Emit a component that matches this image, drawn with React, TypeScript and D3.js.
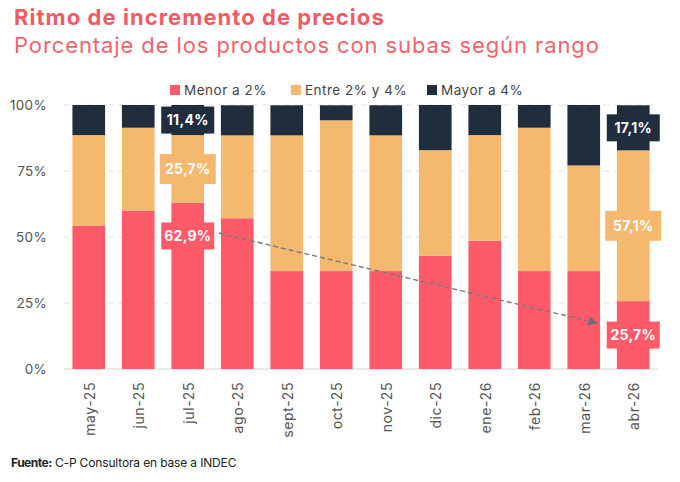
import React, { useEffect, useRef } from 'react';
import * as d3 from 'd3';

const months = ['may-25', 'jun-25', 'jul-25', 'ago-25', 'sept-25', 'oct-25', 'nov-25', 'dic-25', 'ene-26', 'feb-26', 'mar-26', 'abr-26'];
const menor = [54.3, 60.0, 62.9, 57.1, 37.1, 37.1, 37.1, 42.9, 48.6, 37.1, 37.1, 25.7];
const entre = [34.3, 31.4, 25.7, 31.4, 51.4, 57.1, 51.4, 40.0, 40.0, 54.3, 40.0, 57.1];
const mayor = [11.4, 8.6, 11.4, 11.4, 11.4, 5.7, 11.4, 17.1, 11.4, 8.6, 22.9, 17.1];

const seriesKeys = ['menor', 'entre', 'mayor'];
const seriesNames = ['Menor a 2%', 'Entre 2% y 4%', 'Mayor a 4%'];
const seriesColors = ['#ff5a6a', '#f5b86f', '#1f2d3d'];
const yTicks = [0, 25, 50, 75, 100];

// labelled segments; "at" overrides the vertical centre of the label (in %)
const callouts = [
  { month: 'jul-25', key: 'mayor' },
  { month: 'jul-25', key: 'entre' },
  { month: 'jul-25', key: 'menor', at: 50.4 },
  { month: 'abr-26', key: 'mayor' },
  { month: 'abr-26', key: 'entre' },
  { month: 'abr-26', key: 'menor' },
];
const trend = { from: { month: 'jul-25', value: 51.5 }, to: { month: 'abr-26', value: 17.3 } };

const FONT = 'Inter, "Noto Sans", sans-serif';

export default function App() {
  const svgRef = useRef<SVGSVGElement>(null);

  useEffect(() => {
    if (!svgRef.current) return;
    const svg = d3.select(svgRef.current);
    svg.selectAll('*').remove();

    const width = 680;
    const height = 482;
    const margin = { top: 105, right: 22, bottom: 113, left: 64 };

    const rows = months.map((m, i) => ({ month: m, menor: menor[i], entre: entre[i], mayor: mayor[i] }));
    const stacked = d3.stack<any>().keys(seriesKeys)(rows);

    const x = d3.scaleBand().domain(months).range([margin.left, width - margin.right])
      .paddingInner(0.34).paddingOuter(0.17);
    const y = d3.scaleLinear().domain([0, 100]).range([height - margin.bottom, margin.top]);

    // titles
    svg.append('text').attr('x', 14).attr('y', 25)
      .attr('font-family', FONT).attr('font-size', 22).attr('font-weight', 700)
      .attr('letter-spacing', 1.05)
      .attr('fill', '#f25a64').text('Ritmo de incremento de precios');
    svg.append('text').attr('x', 14).attr('y', 53)
      .attr('font-family', FONT).attr('font-size', 22).attr('font-weight', 400)
      .attr('letter-spacing', 0.9)
      .attr('fill', '#f2636c').text('Porcentaje de los productos con subas según rango');

    // legend
    const legendX = [170, 291, 427];
    const lg = svg.append('g');
    seriesNames.forEach((name, i) => {
      lg.append('rect').attr('x', legendX[i]).attr('y', 85).attr('width', 10).attr('height', 10)
        .attr('fill', seriesColors[i]);
      lg.append('text').attr('x', legendX[i] + 14).attr('y', 95)
        .attr('font-family', FONT).attr('font-size', 13.5).attr('letter-spacing', 0.5)
        .attr('fill', '#444').text(name);
    });

    // grid
    const grid = svg.append('g');
    yTicks.forEach(t => {
      grid.append('line')
        .attr('x1', margin.left).attr('x2', width - margin.right)
        .attr('y1', y(t)).attr('y2', y(t))
        .attr('stroke', t === 0 ? '#e2e2e2' : '#e4e4e4')
        .attr('stroke-width', t === 0 ? 1.5 : 1)
        .attr('stroke-dasharray', t === 0 ? null : '6,5');
      grid.append('text').attr('x', 47).attr('y', y(t)).attr('dy', '0.35em')
        .attr('text-anchor', 'end').attr('font-family', FONT).attr('font-size', 13.5)
        .attr('letter-spacing', 0.3).attr('fill', '#555').text(`${t}%`);
    });

    // bars
    svg.append('g').selectAll('g').data(stacked).join('g')
      .attr('fill', (_d, i) => seriesColors[i])
      .selectAll('rect').data(d => d).join('rect')
      .attr('x', d => x(d.data.month)!)
      .attr('width', x.bandwidth())
      .attr('y', d => y(d[1]))
      .attr('height', d => y(d[0]) - y(d[1]));

    // x labels
    svg.append('g').selectAll('text').data(months).join('text')
      .attr('transform', m => `translate(${x(m)! + x.bandwidth() / 2 + 1},382) rotate(-90)`)
      .attr('text-anchor', 'end').attr('dy', '0.35em')
      .attr('font-family', FONT).attr('font-size', 14).attr('letter-spacing', 0.6)
      .attr('fill', '#555').text(m => m);

    // trend arrow
    const boxW = 54;
    const x0 = x(trend.from.month)! + x.bandwidth() / 2 + boxW / 2 + 4;
    const x1 = x(trend.to.month)! + x.bandwidth() / 2 - boxW / 2 - 8;
    const y0 = y(trend.from.value);
    const y1 = y(trend.to.value);
    const ang = Math.atan2(y1 - y0, x1 - x0);
    const ah = 11;
    svg.append('line').attr('x1', x0).attr('y1', y0)
      .attr('x2', x1 - Math.cos(ang) * ah).attr('y2', y1 - Math.sin(ang) * ah)
      .attr('stroke', '#7a7a7a').attr('stroke-width', 1.4).attr('stroke-dasharray', '5,3');
    const p = (a: number, r: number) => [x1 - Math.cos(ang + a) * r, y1 - Math.sin(ang + a) * r];
    svg.append('path')
      .attr('d', `M${x1},${y1}L${p(0.45, ah).join(',')}L${p(-0.45, ah).join(',')}Z`)
      .attr('fill', '#6f6f6f');

    // callouts
    const cg = svg.append('g');
    callouts.forEach(c => {
      const si = seriesKeys.indexOf(c.key);
      const mi = months.indexOf(c.month);
      const seg = stacked[si][mi];
      const val = seg[1] - seg[0];
      const cy = c.at !== undefined ? y(c.at) : (y(seg[0]) + y(seg[1])) / 2;
      const cx = x(c.month)! + x.bandwidth() / 2;
      const label = `${val.toFixed(1).replace('.', ',')}%`;
      const bw = si === 1 ? 56 : 53;
      const bh = si === 1 ? 30 : 27;
      cg.append('rect').attr('x', cx - bw / 2).attr('y', cy - bh / 2)
        .attr('width', bw).attr('height', bh).attr('fill', seriesColors[si]);
      cg.append('text').attr('x', cx).attr('y', cy).attr('dy', '0.36em')
        .attr('text-anchor', 'middle').attr('font-family', FONT)
        .attr('font-size', 14).attr('font-weight', 700).attr('letter-spacing', 0.3)
        .attr('fill', '#fff').text(label);
    });

    // source
    const src = svg.append('text').attr('x', 11).attr('y', 467)
      .attr('font-family', FONT).attr('font-size', 12).attr('fill', '#222');
    src.append('tspan').attr('font-weight', 700).attr('letter-spacing', -0.5).text('Fuente:');
    src.append('tspan').attr('letter-spacing', -0.15).text(' C-P Consultora en base a INDEC');
  }, []);

  return (
    <svg ref={svgRef} width={680} height={482} viewBox="0 0 680 482"
      style={{ position: 'absolute', left: 0, top: 0, background: '#fff' }} />
  );
}
